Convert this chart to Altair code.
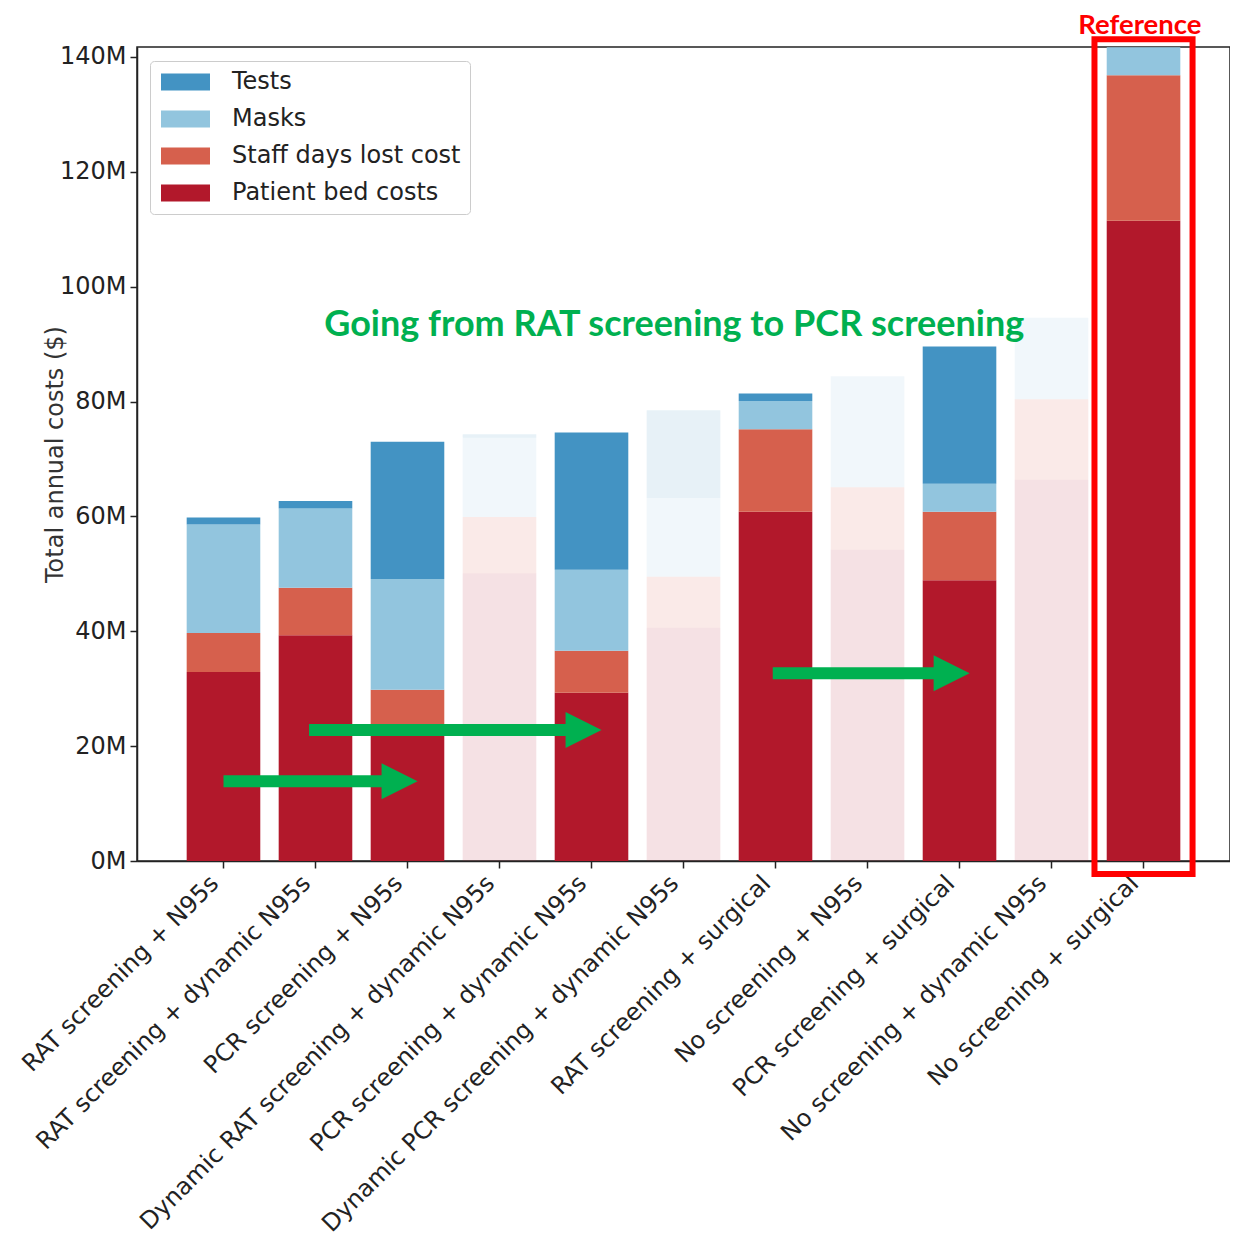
import altair as alt
import pandas as pd

categories = [
    "RAT screening + N95s",
    "RAT screening + dynamic N95s",
    "PCR screening + N95s",
    "Dynamic RAT screening + dynamic N95s",
    "PCR screening + dynamic N95s",
    "Dynamic PCR screening + dynamic N95s",
    "RAT screening + surgical",
    "No screening + N95s",
    "PCR screening + surgical",
    "No screening + dynamic N95s",
    "No screening + surgical",
]
# values in millions of dollars
patient_bed = [32.9, 39.3, 23.0, 50.1, 29.3, 40.6, 60.8, 54.2, 48.9, 66.4, 111.5]
staff_days = [6.8, 8.3, 6.8, 9.8, 7.3, 8.9, 14.4, 10.9, 11.9, 14.0, 25.3]
masks = [18.9, 13.8, 19.3, 13.8, 14.1, 13.7, 4.9, 19.3, 4.9, 14.2, 4.9]
tests = [1.2, 1.3, 23.9, 0.6, 23.9, 15.3, 1.3, 0.0, 23.9, 0.0, 0.0]
highlighted = [True, True, True, False, True, False, True, False, True, False, True]

components = ["Patient bed costs", "Staff days lost cost", "Masks", "Tests"]
legend_order = ["Tests", "Masks", "Staff days lost cost", "Patient bed costs"]
legend_colors = ["#4393c3", "#92c5de", "#d6604d", "#b2182b"]

# annotation arrows (in bar-index units / millions)
arrow_start = [0.0, 0.93, 5.97]
arrow_tip = [2.11, 4.11, 8.11]
arrow_y = [13.9, 22.8, 32.7]

rows = []
for i, cat in enumerate(categories):
    for k, (comp, vals) in enumerate(zip(components, [patient_bed, staff_days, masks, tests])):
        rows.append({
            "scenario": cat,
            "component": comp,
            "value": vals[i],
            "stack_order": k,
            "alpha": 1.0 if highlighted[i] else 0.13,
        })
df = pd.DataFrame(rows)

Y_DOMAIN = [0, 141.74]
X_DOMAIN = [-0.94, 10.94]
GREEN = "#00b050"

bars = alt.Chart(df).mark_bar().encode(
    x=alt.X(
        "scenario:N",
        sort=categories,
        scale=alt.Scale(paddingInner=0.2, paddingOuter=0.54),
        axis=alt.Axis(
            title=None, labelAngle=-45, labelAlign="right", labelBaseline="top",
            labelFontSize=24, labelColor="#222", labelPadding=3, labelLimit=1000,
            labelOffset=-17,
            tickSize=7, tickWidth=1.5, tickColor="#222",
            domainColor="#222", domainWidth=1.5,
        ),
    ),
    y=alt.Y(
        "value:Q",
        stack="zero",
        scale=alt.Scale(domain=Y_DOMAIN, nice=False, zero=True),
        axis=alt.Axis(
            title="Total annual costs ($)", titleFontSize=24, titleFontWeight="normal",
            titleColor="#333", titleX=-82, titleY=407, titleBaseline="middle",
            values=[0, 20, 40, 60, 80, 100, 120, 140],
            labelExpr="datum.value + 'M'", labelFontSize=24, labelColor="#222",
            labelPadding=4, tickSize=7, tickWidth=1.5, tickColor="#222",
            domainColor="#222", domainWidth=1.5, grid=False,
        ),
    ),
    color=alt.Color(
        "component:N",
        scale=alt.Scale(domain=legend_order, range=legend_colors),
        legend=alt.Legend(
            title=None, orient="none", legendX=13, legendY=14,
            symbolType="M-1,-0.85L3.9,-0.85L3.9,0.85L-1,0.85Z", symbolSize=400,
            symbolOpacity=1, symbolStrokeWidth=0,
            labelFontSize=24, labelColor="#222", labelOffset=49, labelLimit=1000,
            rowPadding=13, padding=9,
            fillColor="white", strokeColor="#cccccc", cornerRadius=4,
        ),
    ),
    order=alt.Order("stack_order:Q", sort="ascending"),
    opacity=alt.Opacity("alpha:Q", scale=None),
)

arrows_df = pd.DataFrame({"x0": arrow_start, "x1": arrow_tip, "y": arrow_y})

xq = alt.Scale(domain=X_DOMAIN, nice=False, zero=False)
yq = alt.Scale(domain=Y_DOMAIN, nice=False, zero=False)

shafts = alt.Chart(arrows_df).transform_calculate(
    shaft_end="datum.x1 - 0.3"
).mark_rule(strokeWidth=12, color=GREEN, strokeCap="butt").encode(
    x=alt.X("x0:Q", scale=xq, axis=None),
    x2="shaft_end:Q",
    y=alt.Y("y:Q", scale=yq, axis=None),
)

heads = alt.Chart(arrows_df).transform_calculate(
    head_x="datum.x1 - 0.196"
).mark_point(
    shape="M-1,-1L1,0L-1,1Z", size=1296, filled=True, opacity=1, color=GREEN, strokeWidth=0
).encode(
    x=alt.X("head_x:Q", scale=xq, axis=None),
    y=alt.Y("y:Q", scale=yq, axis=None),
)

ann_df = pd.DataFrame({
    "x": [4.9],
    "y": [93.3],
    "label": ["Going from RAT screening to PCR screening"],
})
ann_text = alt.Chart(ann_df).mark_text(
    font="Lato", fontWeight="bold", fontSize=36, color=GREEN, baseline="middle", align="center"
).encode(
    x=alt.X("x:Q", scale=xq, axis=None),
    y=alt.Y("y:Q", scale=yq, axis=None),
    text="label:N",
)

ref_df = pd.DataFrame({
    "x": [9.467], "x2": [10.533], "y": [-2.26], "y2": [143.1],
    "tx": [9.96], "ty": [144.0], "label": ["Reference"],
})
ref_box = alt.Chart(ref_df).mark_rect(
    fillOpacity=0, stroke="#ff0000", strokeWidth=6
).encode(
    x=alt.X("x:Q", scale=xq, axis=None),
    x2="x2:Q",
    y=alt.Y("y:Q", scale=yq, axis=None),
    y2="y2:Q",
)
ref_text = alt.Chart(ref_df).mark_text(
    font="Lato", fontWeight="bold", fontSize=27.5, color="#ff0000", baseline="alphabetic", align="center"
).encode(
    x=alt.X("tx:Q", scale=xq, axis=None),
    y=alt.Y("ty:Q", scale=yq, axis=None),
    text="label:N",
)

chart = alt.layer(bars, shafts, heads, ann_text, ref_box, ref_text).resolve_scale(
    x="independent", y="independent"
).properties(
    width=1093,
    height=814,
    autosize=alt.AutoSizeParams(type="none"),
    padding={"left": 129, "top": 39, "right": 0, "bottom": 378},
).configure(
    font="DejaVu Sans",
).configure_view(
    stroke="#222", strokeWidth=1.5,
)

chart.save("out.html", embed_options={"renderer": "svg", "actions": False})
